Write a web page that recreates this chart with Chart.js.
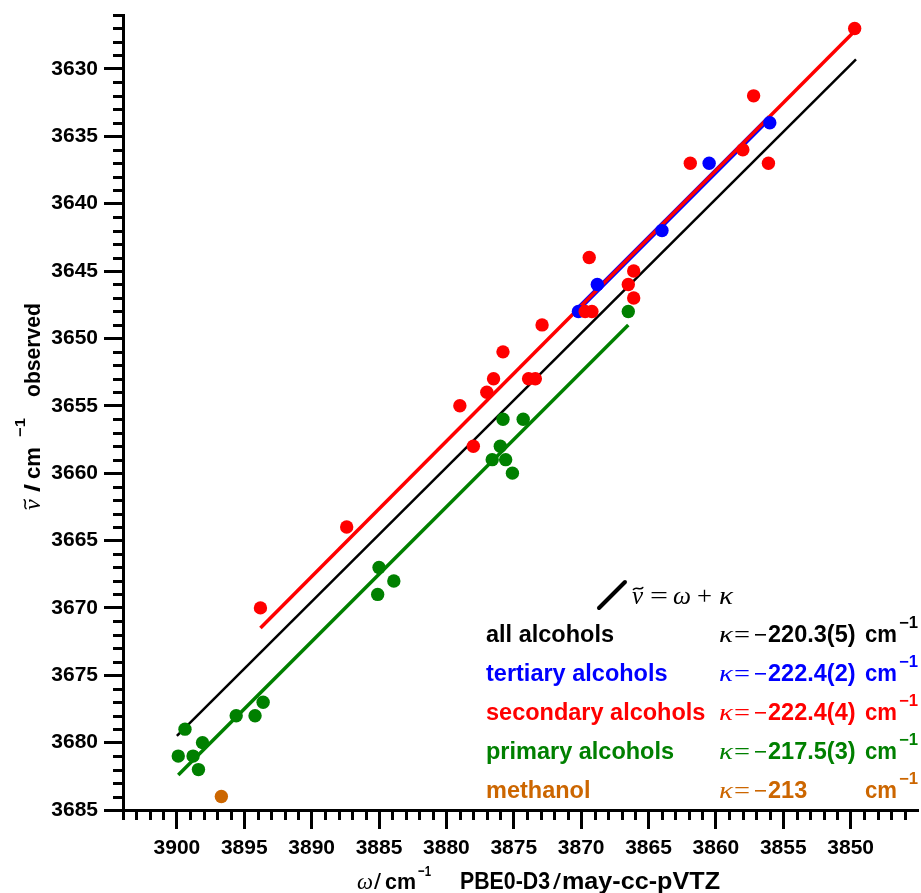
<!DOCTYPE html>
<html><head><meta charset="utf-8">
<script src="https://cdn.jsdelivr.net/npm/chart.js@4.4.0/dist/chart.umd.min.js"></script>
<style>html,body{margin:0;padding:0;background:#fff;}#wrap{width:921px;height:893px;}</style>
</head><body><div id="wrap"><canvas id="c" width="921" height="893"></canvas></div>
<script>
// ---- data ----
const secOmega = [3849.7, 3857.2, 3858.0, 3856.1, 3861.9, 3869.4, 3866.1, 3866.5, 3866.1, 3869.7, 3869.2, 3872.9, 3875.8, 3876.5, 3873.9, 3873.4, 3877.0, 3879.0, 3878.0, 3887.4, 3893.8];
const secNu    = [3627,   3632,   3636,   3637,   3637,   3644,   3645,   3646,   3647,   3648,   3648,   3649,   3651,   3653,   3653,   3653,   3654,   3655,   3658,   3664,   3670];
const terOmega = [3856.0, 3860.5, 3864.0, 3868.8, 3870.2];
const terNu    = [3634,   3637,   3642,   3646,   3648];
const priOmega = [3866.5, 3875.8, 3874.3, 3876.0, 3876.6, 3875.6, 3875.1, 3885.0, 3883.9, 3885.1, 3893.6, 3894.2, 3895.6, 3899.4, 3898.1, 3899.9, 3898.8, 3898.4];
const priNu    = [3648,   3656,   3656,   3658,   3659,   3659,   3660,   3667,   3668,   3669,   3677,   3678,   3678,   3679,   3680,   3681,   3681,   3682];
const methOmega = [3896.7];
const methNu    = [3684];
// fit line end points
const allFitOmega = [3900.0, 3849.6];
const allFitNu    = [3679.5, 3629.3];
const terFitOmega = [3870.2, 3856.0];
const terFitNu    = [3647.8, 3633.6];
const secFitOmega = [3893.8, 3849.6];
const secFitNu    = [3671.5, 3627.1];
const priFitOmega = [3899.9, 3866.5];
const priFitNu    = [3682.4, 3649.0];
// axes
const xMin = 3845, xMax = 3904;
const yMin = 3626, yMax = 3685;
const xMajorTicks = [3900, 3895, 3890, 3885, 3880, 3875, 3870, 3865, 3860, 3855, 3850];
const yMajorTicks = [3630, 3635, 3640, 3645, 3650, 3655, 3660, 3665, 3670, 3675, 3680, 3685];
// legend rows
const groupNames  = ['all alcohols', 'tertiary alcohols', 'secondary alcohols', 'primary alcohols', 'methanol'];
const groupKappa  = ['220.3(5)', '222.4(2)', '222.4(4)', '217.5(3)', '213'];
const groupColors = ['#000000', '#0000FF', '#FF0000', '#008000', '#CC6600'];

const SANS = '"Liberation Sans", Arial, sans-serif';
const SERIF = '"Liberation Serif", "Times New Roman", serif';

function pts(xs, ys) { return xs.map((x, i) => ({x: x, y: ys[i]})); }
function intTicks(a, b) { const t = []; for (let v = a; v <= b; v++) t.push({value: v}); return t; }

const minorTicks = {
  id: 'minorTicks',
  afterDraw(chart) {
    const ctx = chart.ctx, xs = chart.scales.x, ys = chart.scales.y;
    ctx.save();
    ctx.strokeStyle = '#000'; ctx.lineWidth = 3; ctx.lineCap = 'butt';
    xs.ticks.forEach(t => {
      if (t.value % 5 === 0) return;
      const px = Math.round(xs.getPixelForValue(t.value)) + 0.5;
      ctx.beginPath(); ctx.moveTo(px, xs.top); ctx.lineTo(px, xs.top + 10); ctx.stroke();
    });
    ys.ticks.forEach(t => {
      if (t.value % 5 === 0) return;
      const py = Math.round(ys.getPixelForValue(t.value)) + 0.5;
      ctx.beginPath(); ctx.moveTo(ys.right, py); ctx.lineTo(ys.right - 10, py); ctx.stroke();
    });
    ctx.restore();
  }
};

// draw text starting at x, optionally squeezed/stretched to a given width
function txt(ctx, s, x, y, font, color, width) {
  ctx.font = font; ctx.fillStyle = color || '#000';
  const w = ctx.measureText(s).width;
  if (width) {
    ctx.save(); ctx.translate(x, y); ctx.scale(width / w, 1); ctx.fillText(s, 0, 0); ctx.restore();
  } else ctx.fillText(s, x, y);
}
function nuTilde(ctx, x, y, size, color) {
  txt(ctx, '\u03BD', x, y, 'italic ' + size + 'px ' + SERIF, color);
  ctx.font = 'italic ' + size + 'px ' + SERIF;
  const w = ctx.measureText('\u03BD').width;
  ctx.save();
  ctx.strokeStyle = color; ctx.lineWidth = size * 0.06; ctx.lineCap = 'round';
  const cx = x + w * 0.55, ty = y - size * 0.62, hw = w * 0.42, a = size * 0.07;
  ctx.beginPath();
  ctx.moveTo(cx - hw, ty + a * 0.6);
  ctx.bezierCurveTo(cx - hw * 0.4, ty - a * 1.6, cx + hw * 0.4, ty + a * 1.6, cx + hw, ty - a * 0.6);
  ctx.stroke();
  ctx.restore();
}

const annotations = {
  id: 'annotations',
  afterDraw(chart) {
    const ctx = chart.ctx;
    ctx.save();
    ctx.textBaseline = 'alphabetic'; ctx.textAlign = 'left';
    const B22 = 'bold 22px ' + SANS;
    // y axis title (rotated, reading upwards)
    ctx.save();
    ctx.translate(40, 510);
    ctx.rotate(-Math.PI / 2);
    nuTilde(ctx, 0, 0, 24, '#000');
    txt(ctx, '/', 18, 0, 'bold 22px ' + SANS, '#000', 8);
    txt(ctx, 'cm', 31, 0, B22, '#000', 32);
    txt(ctx, '\u22121', 73, -15, 'bold 15px ' + SANS, '#000', 19);
    txt(ctx, 'observed', 113, 0, B22, '#000', 94);
    ctx.restore();
    // x axis title
    txt(ctx, '\u03C9', 357, 889, 'italic 23px ' + SERIF, '#000', 16);
    txt(ctx, '/', 374, 889, '22px ' + SANS, '#000', 7);
    txt(ctx, 'cm', 385, 889, B22, '#000', 31);
    txt(ctx, '\u22121', 418, 876, 'bold 15px ' + SANS, '#000', 13);
    txt(ctx, 'PBE0-D3', 460, 889, 'bold 23px ' + SANS, '#000', 90);
    txt(ctx, '/', 553, 889, '22px ' + SANS, '#000', 8);
    txt(ctx, 'may-cc-pVTZ', 562, 889, 'bold 23px ' + SANS, '#000', 158);
    // legend equation
    ctx.strokeStyle = '#000'; ctx.lineWidth = 4; ctx.lineCap = 'round';
    ctx.beginPath(); ctx.moveTo(599, 608); ctx.lineTo(625, 582); ctx.stroke();
    nuTilde(ctx, 632, 604, 25, '#000');
    txt(ctx, '=', 650, 604, '25px ' + SERIF, '#000', 18);
    txt(ctx, '\u03C9', 673, 604, 'italic 25px ' + SERIF, '#000', 18);
    txt(ctx, '+', 697, 604, '25px ' + SERIF, '#000', 15);
    txt(ctx, '\u03BA', 719, 604, 'italic 25px ' + SERIF, '#000', 14);
    // legend rows
    const baselines = [642, 681, 720, 759, 798];
    groupNames.forEach((name, i) => {
      const col = groupColors[i], by = baselines[i];
      txt(ctx, name, 486, by, 'bold 23.5px ' + SANS, col);
      txt(ctx, '\u03BA', 719, by, 'italic 24px ' + SERIF, col, 14);
      txt(ctx, '=', 734, by, '24px ' + SERIF, col, 16);
      ctx.fillStyle = col;
      ctx.fillRect(755, by - 8, 11, 1.6);
      txt(ctx, groupKappa[i], 768, by, 'bold 23.5px ' + SANS, col);
      txt(ctx, 'cm', 865, by, 'bold 23.5px ' + SANS, col, 32);
      txt(ctx, '\u22121', 899, by - 14, 'bold 16px ' + SANS, col, 19);
    });
    ctx.restore();
  }
};

const tickCb = v => (v % 5 === 0 ? String(v) : '');
const majorColor = c => (c.tick && c.tick.value % 5 === 0 ? '#000' : 'rgba(0,0,0,0)');

new Chart(document.getElementById('c'), {
  type: 'scatter',
  data: {
    datasets: [
      {label: 'methanol', data: pts(methOmega, methNu), backgroundColor: '#CC6600', pointRadius: 6.7, borderWidth: 0, order: 1},
      {label: 'primary', data: pts(priOmega, priNu), backgroundColor: '#008000', pointRadius: 6.7, borderWidth: 0, order: 2},
      {label: 'secondary', data: pts(secOmega, secNu), backgroundColor: '#FF0000', pointRadius: 6.7, borderWidth: 0, order: 3},
      {label: 'tertiary', data: pts(terOmega, terNu), backgroundColor: '#0000FF', pointRadius: 6.7, borderWidth: 0, order: 4},
      {label: 'primary fit', data: pts(priFitOmega, priFitNu), showLine: true, borderColor: '#008000', borderWidth: 3.5, pointRadius: 0, order: 5},
      {label: 'secondary fit', data: pts(secFitOmega, secFitNu), showLine: true, borderColor: '#FF0000', borderWidth: 3.5, pointRadius: 0, order: 6},
      {label: 'tertiary fit', data: pts(terFitOmega, terFitNu), showLine: true, borderColor: '#0000FF', borderWidth: 5.5, pointRadius: 0, order: 7},
      {label: 'all fit', data: pts(allFitOmega, allFitNu), showLine: true, borderColor: '#000000', borderWidth: 2.5, pointRadius: 0, order: 8}
    ]
  },
  options: {
    responsive: false, animation: false, devicePixelRatio: 1,
    layout: {autoPadding: false, padding: {top: 15, right: 3, left: 0, bottom: 0}},
    plugins: {legend: {display: false}, tooltip: {enabled: false}},
    scales: {
      x: {
        type: 'linear', position: 'bottom', reverse: true, min: xMin, max: xMax,
        afterBuildTicks: s => { s.ticks = intTicks(xMin + 1, xMax); },
        afterFit: s => { s.height = 83; s.paddingLeft = 0; s.paddingRight = 0; },
        ticks: {autoSkip: false, maxRotation: 0, padding: 0, color: '#000', font: {family: SANS, size: 21, weight: 'bold', lineHeight: 1.867}, callback: tickCb},
        grid: {drawOnChartArea: false, drawTicks: true, tickLength: 19, tickWidth: 3, tickColor: majorColor},
        border: {display: true, width: 3, color: '#000'}
      },
      y: {
        type: 'linear', position: 'left', reverse: true, min: yMin, max: yMax,
        afterBuildTicks: s => { s.ticks = intTicks(yMin, yMax); },
        afterFit: s => { s.width = 123; s.paddingTop = 0; s.paddingBottom = 0; },
        ticks: {autoSkip: false, padding: 6, color: '#000', font: {family: SANS, size: 21, weight: 'bold'}, callback: tickCb},
        grid: {drawOnChartArea: false, drawTicks: true, tickLength: 19, tickWidth: 3, tickColor: majorColor},
        border: {display: true, width: 3, color: '#000'}
      }
    }
  },
  plugins: [minorTicks, annotations]
});
</script></body></html>
